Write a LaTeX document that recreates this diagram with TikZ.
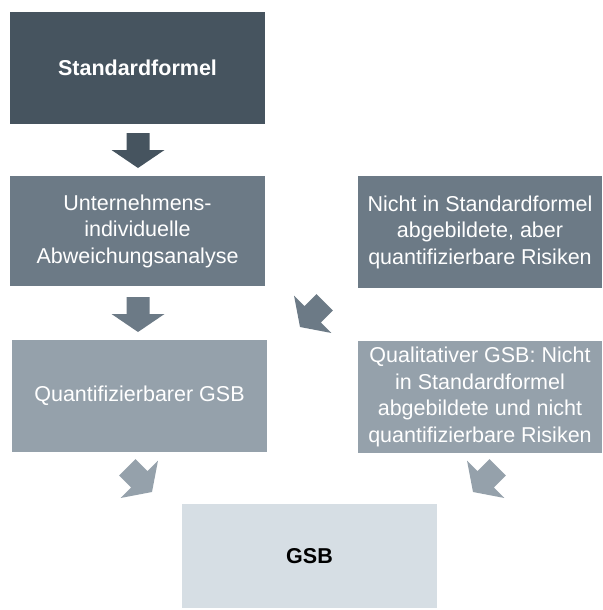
\documentclass[tikz,border=0pt]{standalone}
\usepackage{fontspec}
\setmainfont{Liberation Sans}
\definecolor{cA}{HTML}{46545F}
\definecolor{cB}{HTML}{6C7A86}
\definecolor{cC}{HTML}{95A1AB}
\definecolor{cD}{HTML}{D6DEE4}
\tikzset{
  box/.style={rectangle, inner sep=0pt, align=center, text=white,
    font=\fontsize{21.5}{26.5}\selectfont},
  pics/barrow/.style={code={
    \fill[#1] (-11.5,-35) -- (11.5,-35) -- (11.5,-18) -- (26.5,-18) -- (0,0)
      -- (-26.5,-18) -- (-11.5,-18) -- cycle;}}
}
\begin{document}
\begin{tikzpicture}[x=1pt,y=-1pt]
\useasboundingbox (0,0) rectangle (602,610);
\node[box, fill=cA, minimum width=255pt, minimum height=112pt,
  font=\fontsize{21.5}{26.5}\selectfont\bfseries] (std) at (137.5,68) {Standardformel};
\node[box, fill=cB, minimum width=255pt, minimum height=110pt] (ua) at (137.5,231)
  {Unternehmens-\\individuelle\\Abweichungsanalyse};
\node[box, fill=cB, minimum width=244pt, minimum height=112pt] (nicht) at (480,232)
  {Nicht in Standardformel\\abgebildete, aber\\quantifizierbare Risiken};
\node[box, fill=cC, minimum width=255pt, minimum height=112pt] (qg) at (139.5,396)
  {Quantifizierbarer GSB};
\node[box, fill=cC, minimum width=244pt, minimum height=112pt] (qual) at (480,397)
  {Qualitativer GSB: Nicht\\in Standardformel\\abgebildete und nicht\\quantifizierbare Risiken};
\node[box, fill=cD, text=black, minimum width=255pt, minimum height=104pt,
  font=\fontsize{21.5}{26.5}\selectfont\bfseries] (gsb) at (309.5,556) {GSB};
\pic at (138,168) {barrow=cA};
\pic at (138,332) {barrow=cB};
\pic[rotate=-45] at (300,327) {barrow=cB};
\pic[rotate=45] at (152,492) {barrow=cC};
\pic[rotate=-45] at (473,492) {barrow=cC};
\end{tikzpicture}
\end{document}
